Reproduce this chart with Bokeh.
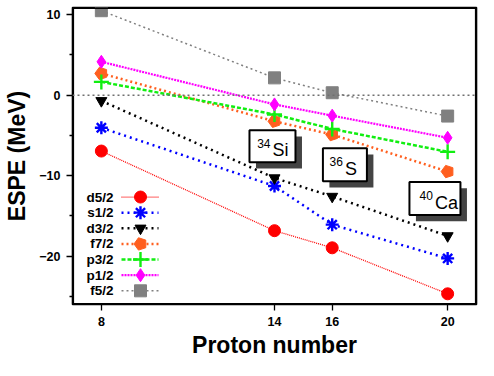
import numpy as np
from bokeh.plotting import figure
from bokeh.models import FixedTicker, Span, Range1d
from bokeh.core.properties import value
from bokeh.embed import file_html
from bokeh.resources import INLINE

# ---------------- data ----------------
protons = [8, 14, 16, 20]
orbitals = ["d5/2", "s1/2", "d3/2", "f7/2", "p3/2", "p1/2", "f5/2"]
d52 = [-6.95, -16.85, -18.98, -24.7]
s12 = [-4.05, -11.3, -16.1, -20.3]
d32 = [-0.7, -10.3, -12.6, -17.5]
f72 = [2.7, -3.25, -4.9, -9.5]
p32 = [1.65, -2.4, -4.2, -7.05]
p12 = [4.15, -1.15, -2.55, -5.3]
f52 = [10.5, 2.15, 0.3, -2.6]
series = [d52, s12, d32, f72, p32, p12, f52]

x_ticks = [8, 14, 16, 20]
y_ticks = [-20, -10, 0, 10]
y_minor = [-25, -15, -5, 5]

nuclei_mass = ["34", "36", "40"]
nuclei_sym = ["Si", "S", "Ca"]
nuclei_x = [13.93, 16.44, 19.56]
nuclei_y = [-6.35, -8.65, -12.85]

# ---------------- styles ----------------
colors = ["#ff0000", "#0000ff", "#000000", "#ff5f1f", "#11ee11", "#ff00ff", "#808080"]
dashes = ["1 1", "2 4", "2 4", "2 3", "4 2", "2 1", "2 3"]
lwidths = [1.3, 2.5, 2.5, 2.5, 2.5, 2.2, 1.5]
markers = ["circle", "asterisk", "inverted_triangle", "pentagon", "cross", "diamond", "square"]
msizes = [12, 13, 11, 13, 15, 13, 12]

FONT = "Liberation Sans"
W, H = 478, 360
BL, BR, BT, BB = 72, 2, 7, 49
X0, X1 = 7, 21
Y0, Y1 = -26.03, 10.9
fw, fh = W - BL - BR, H - BT - BB
ppx = fw / (X1 - X0)
ppy = fh / (Y1 - Y0)

def sx(px):  # frame-relative px -> data x
    return X0 + px / ppx

def sy(py):  # frame-relative px (from top) -> data y
    return Y1 - py / ppy

p = figure(width=W, height=H, output_backend="svg", toolbar_location=None,
           x_range=Range1d(X0, X1), y_range=Range1d(Y0, Y1),
           min_border_left=BL, min_border_right=BR, min_border_top=BT, min_border_bottom=BB)
p.grid.visible = False
p.outline_line_color = "black"
p.outline_line_width = 1.6
p.background_fill_color = "white"
p.border_fill_color = "white"

for ax in (p.xaxis[0], p.yaxis[0]):
    ax.axis_line_color = None
    ax.major_tick_line_width = 1.3
    ax.minor_tick_line_width = 1.3
    ax.major_tick_out = 6
    ax.major_tick_in = 0
    ax.minor_tick_out = 3
    ax.minor_tick_in = 0
    ax.major_label_text_font = FONT
    ax.major_label_text_font_style = "bold"
    ax.major_label_text_font_size = "12.5px"
    ax.major_label_text_color = "black"
    ax.axis_label_text_font = FONT
    ax.axis_label_text_font_style = "bold"
    ax.axis_label_text_font_size = "23px"
    ax.axis_label_text_color = "black"

p.xaxis.ticker = FixedTicker(ticks=x_ticks)
p.xaxis.axis_label = "Proton number"
p.xaxis.major_label_standoff = 6
p.xaxis.axis_label_standoff = 3
p.yaxis.ticker = FixedTicker(ticks=y_ticks, minor_ticks=y_minor)
p.yaxis.axis_label = "ESPE (MeV)"
p.yaxis.major_label_standoff = 6
p.yaxis.axis_label_standoff = 6

# frame outline drawn explicitly with spans (slightly inset so not clipped)
ix, iy = 0.8 / ppx, 0.8 / ppy
for loc, dim in ((X0 + ix, "height"), (X1 - ix, "height"),
                 (Y0 + iy, "width"), (Y1 - iy, "width")):
    p.add_layout(Span(location=loc, dimension=dim, line_color="black",
                      line_width=1.6))

# zero line
p.add_layout(Span(location=0, dimension="width", line_color="#707070",
                  line_dash="2 3", line_width=1.5))

def draw_marker(xs, ys, m, c, s):
    if m == "pentagon":
        p.ngon(x=xs, y=ys, radius=s / 2, radius_units="screen", n=5,
               angle=np.pi / 2, fill_color=c, line_color=c)
    elif m in ("asterisk", "cross"):
        p.scatter(x=xs, y=ys, marker=m, size=s, line_color=c, line_width=2.4)
    else:
        p.scatter(x=xs, y=ys, marker=m, size=s, fill_color=c, line_color=c)

for ys, c, d, lw, m, s in zip(series, colors, dashes, lwidths, markers, msizes):
    p.line(protons, ys, line_color=c, line_dash=d, line_width=lw)
    draw_marker(protons, ys, m, c, s)

# nucleus labels (boxes with shadows)
bw = [46, 44, 51]
bh = [32, 33, 33]
sh = 6.5
p.rect(x=[x + sh / ppx for x in nuclei_x], y=[y - sh / ppy for y in nuclei_y],
       width=bw, height=bh, width_units="screen", height_units="screen",
       fill_color="#444444", line_color=None)
p.rect(x=nuclei_x, y=nuclei_y, width=bw, height=bh, width_units="screen",
       height_units="screen", fill_color="white", line_color="black", line_width=2)
p.text(x=nuclei_x, y=nuclei_y, text=nuclei_sym, text_font=value(FONT),
       text_font_size="18px", text_align="left", text_baseline="middle",
       x_offset=0, y_offset=4, text_color="black")
p.text(x=nuclei_x, y=nuclei_y, text=nuclei_mass, text_font=value(FONT),
       text_font_size="12px", text_align="right", text_baseline="middle",
       x_offset=-2, y_offset=-3, text_color="black")

# manual legend (label left, sample right)
row0, drow = 194, 16   # frame px from top
lab_x, l0, l1, mx = 41, 49, 86, 68  # frame px from left
for i, (name, c, d, lw, m, s) in enumerate(zip(orbitals, colors, dashes, lwidths, markers, msizes)):
    yy = sy(row0 + i * drow)
    p.text(x=[sx(lab_x)], y=[yy], text=[name], text_font=value(FONT),
           text_font_style="bold", text_font_size="13.5px", text_align="right",
           text_baseline="middle", text_color="black")
    p.line([sx(l0), sx(l1)], [yy, yy], line_color=c, line_dash=d, line_width=lw)
    draw_marker([sx(mx)], [yy], m, c, s)

open("out.html", "w").write(file_html(p, INLINE))
